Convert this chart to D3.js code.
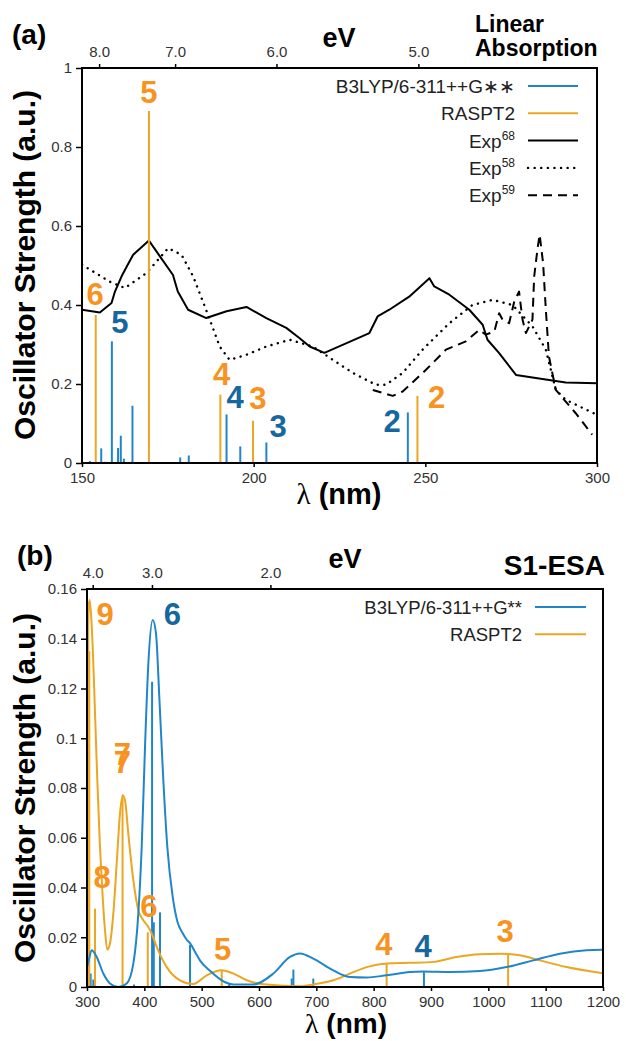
<!DOCTYPE html>
<html><head><meta charset="utf-8">
<script src="https://cdn.jsdelivr.net/npm/d3@7"></script>
<style>
html,body{margin:0;padding:0;background:#fff;}
svg text{font-family:"Liberation Sans",Arial,Helvetica,sans-serif;}
</style></head>
<body><svg id="c" width="626" height="1041"></svg>
<script>
// ---------- Panel (a): Linear Absorption ----------
const aB3lypNm = [152.3,155.6,156.8,158.7,160.5,161.3,162.2,164.7,176.1,178.6,181.1,192.1,196.1,203.7,244.9];
const aB3lypF  = [0.005,0.037,0.003,0.308,0.038,0.069,0.011,0.145,0.002,0.014,0.019,0.123,0.042,0.052,0.128];
const aRasNm = [154.0,169.5,190.3,199.8,247.7];
const aRasF  = [0.375,0.891,0.173,0.107,0.170];
const exp68Nm = [150,155.2,158.6,159.6,161.5,163,164.9,169.5,172.7,176.5,177.9,180.9,186.2,192.1,197.9,203.7,209.5,213.4,216.3,220.6,233.7,236.1,239.5,245.3,251.2,252.6,257,262.8,266.7,268.1,271.5,276.4,287,290.9,300];
const exp68F  = [0.388,0.381,0.405,0.434,0.472,0.497,0.527,0.563,0.523,0.476,0.434,0.388,0.367,0.384,0.395,0.367,0.342,0.316,0.295,0.279,0.329,0.371,0.388,0.421,0.468,0.447,0.426,0.388,0.350,0.312,0.278,0.223,0.209,0.204,0.202];
const exp58Nm = [150,158.1,162.5,168.8,175.1,179,182.4,186.7,190.1,193,197.9,203.7,210.5,217.2,223.1,228.9,235.6,238.5,243.4,249.2,257,263.7,269.6,275.4,281.2,285.1,288,290.9,300];
const exp58F  = [0.502,0.459,0.443,0.481,0.544,0.527,0.472,0.375,0.295,0.261,0.274,0.295,0.312,0.295,0.261,0.228,0.198,0.198,0.228,0.287,0.354,0.400,0.413,0.400,0.346,0.287,0.185,0.160,0.122];
const exp59Nm = [234.7,240.5,243.4,250.2,256,261.8,265.7,267.6,270.1,271.5,272.5,274.4,275.9,277.3,278.3,279.3,281.2,281.7,282.7,283.3,284.3,285.1,286,288,293.8,298.6];
const exp59F  = [0.185,0.170,0.181,0.236,0.287,0.308,0.337,0.325,0.333,0.379,0.363,0.354,0.409,0.434,0.363,0.329,0.363,0.472,0.544,0.578,0.506,0.388,0.270,0.185,0.126,0.072];
const aXTicks = [150,200,250,300];
const aYTicks = [0,0.2,0.4,0.6,0.8,1];
const aYTickLabels = ["0","0.2","0.4","0.6","0.8","1"];
const aEvTicks = [8.0,7.0,6.0,5.0];
const aEvLabels = ["8.0","7.0","6.0","5.0"];
const aLabText = ["6","5","4","3","2"];
const aLabRasNm = [153.8,169.5,190.7,201.2,253.3];
const aLabRasF  = [0.400,0.911,0.198,0.137,0.140];
const aLabB3Text = ["5","4","3","2"];
const aLabB3Nm = [161.0,194.6,207.1,240.3];
const aLabB3F  = [0.329,0.140,0.067,0.079];
const aLegend = [["B3LYP/6-311++G\u2217\u2217",""],["RASPT2",""],["Exp","68"],["Exp","58"],["Exp","59"]];

// ---------- Panel (b): S1-ESA ----------
const bB3lypNm = [306.4,311,382,413.5,416.5,427.3,479.7,548,657,660,694.7,887.7];
const bB3lypF  = [0.0054,0.003,0.001,0.1227,0.026,0.030,0.017,0.001,0.0034,0.007,0.0034,0.006];
const bRasNm = [302,304,314,362,406,535,822.6,1034.5];
const bRasF  = [0.155,0.135,0.0315,0.076,0.022,0.0066,0.0094,0.0132];
const bB3CurveNm = [300,302.3,308.2,316.9,328.5,340.1,354.6,369.2,380.8,389.5,395.4,401.2,407,414.6,420.4,426.1,433.1,440.1,449.5,458,466,474,480,490,497,514.5,540,555,590,625,654,671.5,694.7,729.6,758.7,787.7,822.6,863.2,886.5,933,985.2,1031.7,1078.2,1124.7,1171.3,1200];
const bB3CurveF  = [0.008,0.010,0.0148,0.0121,0.0054,0.0014,0.0,0.0014,0.0094,0.0295,0.0563,0.0966,0.130,0.1475,0.142,0.1167,0.0832,0.0563,0.0362,0.026,0.022,0.019,0.0175,0.0135,0.0107,0.0065,0.002,0.001,0.001,0.0054,0.0121,0.0135,0.0114,0.0067,0.004,0.0038,0.0047,0.006,0.0062,0.006,0.0064,0.008,0.0107,0.0134,0.0148,0.015];
const bRasCurveNm = [300,302,304.5,307,309.9,314,318,322.7,327.4,331.4,335.4,340.1,345.9,351.8,357.6,362.2,366.3,372,380.8,389.5,398.2,407,412.8,421.6,439,462.2,485.4,508.8,534.9,555.3,578.6,613.4,671.5,694.7,729.6,758.7,787.7,822.6,863.2,903.9,944.5,985.2,1020.1,1055,1090,1136.4,1200];
const bRasCurveF  = [0.12,0.148,0.1556,0.150,0.137,0.110,0.083,0.056,0.036,0.0228,0.015,0.0175,0.0295,0.0497,0.0698,0.0771,0.0751,0.0617,0.043,0.0309,0.0268,0.0241,0.0215,0.0161,0.008,0.0027,0.0012,0.0047,0.0067,0.0054,0.0027,0.001,0.0003,0.001,0.0027,0.0054,0.008,0.0094,0.0097,0.0101,0.0121,0.0132,0.0134,0.0128,0.0107,0.008,0.0055];
const bXTicks = [300,400,500,600,700,800,900,1000,1100,1200];
const bYTicks = [0,0.02,0.04,0.06,0.08,0.1,0.12,0.14,0.16];
const bYTickLabels = ["0","0.02","0.04","0.06","0.08","0.1","0.12","0.14","0.16"];
const bEvTicks = [4.0,3.0,2.0];
const bEvLabels = ["4.0","3.0","2.0"];
const bLabRasText = ["9","7","7","8","6","5","4","3"];
const bLabRasNm = [331.4,361.9,361.9,326.2,408.1,536.4,818.0,1029.1];
const bLabRasF  = [0.1455,0.0892,0.086,0.0397,0.0281,0.0107,0.0128,0.0180];
const bLabB3Text = ["6","4"];
const bLabB3Nm = [449.1,886.1];
const bLabB3F  = [0.1455,0.0120];
const bLegend = ["B3LYP/6-311++G**","RASPT2"];

// ---------- styles ----------
const BLUE = "#2086c9", ORANGE = "#eba623", BLUE_LAB = "#17679f", ORANGE_LAB = "#f7931e";
const HC = 1239.84;
const svg = d3.select("#c");

function zip(a,b){return a.map((v,i)=>[v,b[i]]);}

function frame(g, x, y){
  const [x0,x1] = x.range(), [y0,y1] = y.range();
  g.append("rect").attr("x",x0).attr("y",y1).attr("width",x1-x0).attr("height",y0-y1)
   .attr("fill","none").attr("stroke","#000").attr("stroke-width",2);
}
function styleAxis(sel){
  sel.select(".domain").remove();
  sel.selectAll(".tick line").attr("stroke","#000").attr("stroke-width",1.5);
  sel.selectAll(".tick text").attr("fill","#333").style("font-size","15px");
}
function axes(g, x, y, xt, yt, ytl, evt, evl){
  const [x0,x1] = x.range(), [y0,y1] = y.range();
  g.append("g").attr("transform",`translate(0,${y0})`)
    .call(d3.axisBottom(x).tickValues(xt).tickSize(4).tickPadding(5).tickFormat(d3.format("d")))
    .call(styleAxis);
  g.append("g").attr("transform",`translate(${x0},0)`)
    .call(d3.axisLeft(y).tickValues(yt).tickSize(6).tickPadding(4).tickFormat((d,i)=>ytl[i]))
    .call(styleAxis);
  g.append("g").attr("transform",`translate(0,${y1})`)
    .call(d3.axisTop(x).tickValues(evt.map(e=>HC/e)).tickSize(4).tickPadding(7).tickFormat((d,i)=>evl[i]))
    .call(styleAxis);
}
function sticks(g, x, y, nm, f, color){
  g.append("g").selectAll("line").data(zip(nm,f)).join("line")
    .attr("x1",d=>x(d[0])).attr("x2",d=>x(d[0]))
    .attr("y1",y(0)).attr("y2",d=>y(d[1]))
    .attr("stroke",color).attr("stroke-width",2);
}
function curve(g, x, y, nm, f, color, dash, cv, w){
  const line = d3.line().x(d=>x(d[0])).y(d=>y(d[1])).curve(cv||d3.curveLinear);
  const p = g.append("path").attr("d",line(zip(nm,f))).attr("fill","none")
    .attr("stroke",color).attr("stroke-width",w||2).attr("stroke-linejoin","round");
  if(dash){p.attr("stroke-dasharray",dash.arr).attr("stroke-linecap",dash.cap);}
  return p;
}
function labels(g, x, y, txt, nm, f, color){
  g.append("g").selectAll("text").data(txt).join("text")
    .attr("x",(d,i)=>x(nm[i])).attr("y",(d,i)=>y(f[i]))
    .attr("text-anchor","middle").attr("fill",color)
    .style("font-size","31px").style("font-weight","bold").text(d=>d);
}
function clip(id, x, y){
  const [x0,x1] = x.range(), [y0,y1] = y.range();
  svg.append("clipPath").attr("id",id).append("rect")
    .attr("x",x0).attr("y",y1-20).attr("width",x1-x0).attr("height",y0-y1+20);
}
function xTitle(cx, by, fs){
  const t = svg.append("text").attr("x",cx).attr("y",by).attr("text-anchor","middle")
    .style("font-size",fs+"px").style("font-weight","bold");
  t.append("tspan").style("font-family","'Liberation Serif','DejaVu Serif',serif").style("font-weight","normal").text("\u03bb");
  t.append("tspan").text(" (nm)");
}

// ================= Panel A =================
const xA = d3.scaleLinear().domain([150,300]).range([82,597]);
const yA = d3.scaleLinear().domain([0,1]).range([463,68]);
const gA = svg.append("g");
clip("clipA", xA, yA);
const pA = gA.append("g").attr("clip-path","url(#clipA)");
curve(pA, xA, yA, exp58Nm, exp58F, "#000", {arr:"0.1 6.5", cap:"round"}, d3.curveLinear, 2.4);
curve(pA, xA, yA, exp59Nm, exp59F, "#000", {arr:"9 6", cap:"butt"}, d3.curveLinear, 2);
curve(pA, xA, yA, exp68Nm, exp68F, "#000", null, d3.curveLinear, 2);
sticks(pA, xA, yA, aB3lypNm, aB3lypF, BLUE);
sticks(pA, xA, yA, aRasNm, aRasF, ORANGE);
axes(gA, xA, yA, aXTicks, aYTicks, aYTickLabels, aEvTicks, aEvLabels);
frame(gA, xA, yA);
labels(gA, xA, yA, aLabText, aLabRasNm, aLabRasF, ORANGE_LAB);
labels(gA, xA, yA, aLabB3Text, aLabB3Nm, aLabB3F, BLUE_LAB);

// legend A
const legA = gA.append("g");
const legAStyles = [{c:BLUE},{c:ORANGE},{c:"#000"},{c:"#000",dash:"0.1 6.5",cap:"round",w:2.4},{c:"#000",dash:"9 6",cap:"butt"}];
aLegend.forEach((d,i)=>{
  const yy = 86 + i*27.3;
  const s = legAStyles[i];
  const ln = legA.append("line").attr("x1",528).attr("x2",578).attr("y1",yy).attr("y2",yy)
    .attr("stroke",s.c).attr("stroke-width",s.w||2);
  if(s.dash) ln.attr("stroke-dasharray",s.dash).attr("stroke-linecap",s.cap);
  const t = legA.append("text").attr("x",515).attr("y",yy+7).attr("text-anchor","end")
    .attr("fill","#222").style("font-size","19px");
  t.append("tspan").text(d[0]);
  if(d[1]) t.append("tspan").attr("dy",-8).style("font-size","12px").text(d[1]);
});

// titles A
svg.append("text").attr("x",12).attr("y",44).style("font-size","28px").style("font-weight","bold").text("(a)");
svg.append("text").attr("x",339).attr("y",47).attr("text-anchor","middle").style("font-size","27px").style("font-weight","bold").text("eV");
svg.append("text").attr("x",475).attr("y",32).style("font-size","23px").style("font-weight","bold").text("Linear");
svg.append("text").attr("x",475).attr("y",56).style("font-size","23px").style("font-weight","bold").text("Absorption");
svg.append("text").attr("transform","translate(35,265) rotate(-90)").attr("text-anchor","middle")
  .style("font-size","30px").style("font-weight","bold").text("Oscillator Strength (a.u.)");
xTitle(339, 504, 29);

// ================= Panel B =================
const xB = d3.scaleLinear().domain([300,1200]).range([87,603]);
const yB = d3.scaleLinear().domain([0,0.16]).range([987,589]);
const gB = svg.append("g");
clip("clipB", xB, yB);
const pB = gB.append("g").attr("clip-path","url(#clipB)");
sticks(pB, xB, yB, bB3lypNm, bB3lypF, BLUE);
sticks(pB, xB, yB, bRasNm, bRasF, ORANGE);
curve(pB, xB, yB, bRasCurveNm, bRasCurveF, ORANGE, null, d3.curveMonotoneX, 2);
curve(pB, xB, yB, bB3CurveNm, bB3CurveF, BLUE, null, d3.curveMonotoneX, 2);
axes(gB, xB, yB, bXTicks, bYTicks, bYTickLabels, bEvTicks, bEvLabels);
frame(gB, xB, yB);
labels(gB, xB, yB, bLabRasText, bLabRasNm, bLabRasF, ORANGE_LAB);
labels(gB, xB, yB, bLabB3Text, bLabB3Nm, bLabB3F, BLUE_LAB);

const legB = gB.append("g");
[BLUE, ORANGE].forEach((c,i)=>{
  const yy = 607 + i*27.3;
  legB.append("line").attr("x1",535).attr("x2",586).attr("y1",yy).attr("y2",yy).attr("stroke",c).attr("stroke-width",2);
  legB.append("text").attr("x",522).attr("y",yy+7).attr("text-anchor","end").attr("fill","#222")
    .style("font-size","18.5px").text(bLegend[i]);
});

svg.append("text").attr("x",17).attr("y",565).style("font-size","28px").style("font-weight","bold").text("(b)");
svg.append("text").attr("x",345).attr("y",568).attr("text-anchor","middle").style("font-size","27px").style("font-weight","bold").text("eV");
svg.append("text").attr("x",605).attr("y",575).attr("text-anchor","end").style("font-size","28px").style("font-weight","bold").text("S1-ESA");
svg.append("text").attr("transform","translate(35,788) rotate(-90)").attr("text-anchor","middle")
  .style("font-size","30px").style("font-weight","bold").text("Oscillator Strength (a.u.)");
xTitle(346, 1033, 28);
</script></body></html>
